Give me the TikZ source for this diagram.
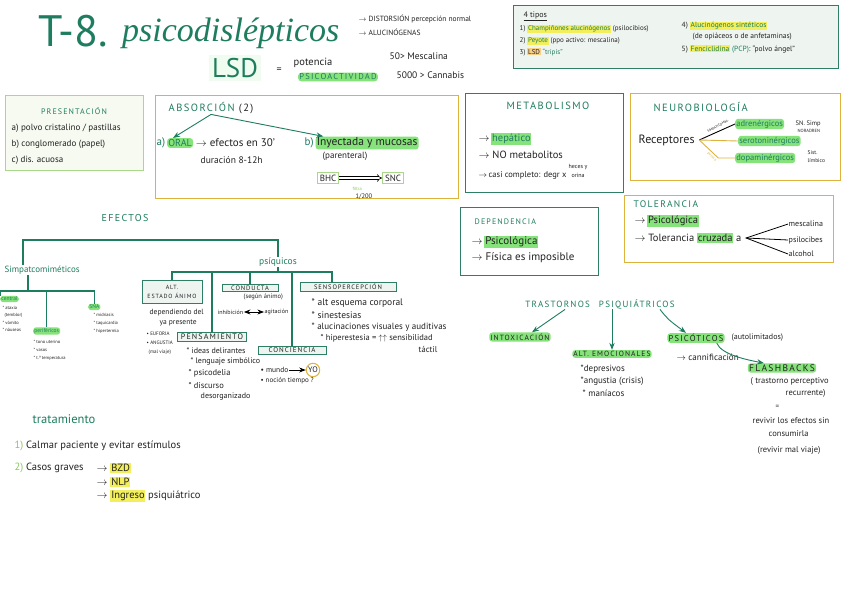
\documentclass[tikz,border=0pt]{standalone}
\usepackage{fontspec}
\setmainfont{PT Sans}
\newfontfamily\titlefont{Liberation Serif}
\newfontfamily\capsfont[LetterSpace=14]{PT Sans}
\usetikzlibrary{arrows.meta, positioning}

\definecolor{ink}{HTML}{1E7D5F}
\definecolor{boxgreen}{HTML}{2F7F66}
\definecolor{gold}{HTML}{DDB33C}
\definecolor{hlg}{HTML}{86E27A}
\definecolor{hly}{HTML}{F3EF5C}
\definecolor{hlo}{HTML}{F7CF86}
\definecolor{lime}{HTML}{86C95A}
\definecolor{pale}{HTML}{EEF4F0}
\definecolor{presfill}{HTML}{F6FAF1}
\definecolor{presline}{HTML}{A8D98A}
\definecolor{pen}{HTML}{222222}

\newcommand\hlY[1]{{\setlength\fboxsep{0.8pt}\colorbox{hly}{#1}}}
\newcommand\hlG[1]{{\setlength\fboxsep{0.8pt}\colorbox{hlg}{#1}}}
\newcommand\ar{\ensuremath{\rightarrow}}

\begin{document}
\begin{tikzpicture}[x=1pt, y=-1pt, >=Stealth, text=pen,
    lbl/.style={anchor=west, inner sep=0.5pt, font=\fontsize{#1}{#1}\selectfont},
    lbl/.default=8,
    head/.style={inner sep=0.5pt, text=ink, font=\capsfont\fontsize{#1}{#1}\selectfont},
    head/.default=9,
    markg/.style={fill=hlg, rounded corners=3pt, inner sep=1.2pt},
    bigbox/.style={draw, anchor=north west, inner sep=0pt},
    gbox/.style={bigbox, draw=boxgreen, line width=1.4pt},
    ybox/.style={bigbox, draw=gold, line width=1.3pt},
    sbox/.style={draw=boxgreen, fill=pale, line width=0.9pt, inner sep=1.5pt, align=center, font=\capsfont\fontsize{#1}{9}\selectfont},
    sbox/.default=6.5,
    tree/.style={draw=ink, line width=1.1pt},
    garrow/.style={->, draw=ink, line width=0.9pt}
  ]
  \useasboundingbox[fill=white] (0,0) rectangle (848,599);

  % Title
  \node[anchor=base west, inner sep=0pt, text=ink, font=\fontsize{44}{44}\selectfont] (tnum) at (38,47) {T-8.};
  \node[anchor=base west, inner sep=0pt, text=ink, font=\titlefont\itshape\fontsize{34}{34}\selectfont] (tname) at (122,42) {psicodislépticos};
  \node[lbl=7.5] (dist) at (358,19) {\ar\ DISTORSIÓN percepción normal};
  \node[lbl=7.5] (aluc) at (358,32) {\ar\ ALUCINÓGENAS};

  \node[fill=hlg!12, text=ink, inner sep=3pt, font=\fontsize{27}{27}\selectfont] (lsd) at (235,68) {LSD};
  \node[lbl=10] (eq) at (276,70) {=};
  \node[lbl=10.5] (pot) at (293,63) {potencia};
  \node[markg, anchor=west, text=ink, font=\capsfont\fontsize{8.5}{8.5}\selectfont] (psicoact) at (298,77) {PSICOACTIVIDAD};
  \node[lbl=9.5] (mesc) at (389,56) {50> Mescalina};
  \node[lbl=9.5] (cann) at (396,75) {5000 > Cannabis};

  % 4 tipos
  \node[bigbox, draw=boxgreen, fill=pale, line width=1.2pt, minimum width=325pt, minimum height=63pt] (tipos) at (513,5) {};
  \node[lbl=8] (tiposh) at (523,16) {\underline{4 tipos}};
  \node[lbl=7] (t1) at (519,29) {1) \hlY{\color{ink}Champiñones alucinógenos} (psilocibios)};
  \node[lbl=7] (t2) at (519,41) {2) \hlY{\color{ink}Peyote} (ppo activo: mescalina)};
  \node[lbl=7] (t3) at (519,52) {3) {\setlength\fboxsep{0.8pt}\colorbox{hlo}{LSD}} {\color{ink}``tripis''}};
  \node[lbl=7.5] (t4) at (681,26) {4) \hlY{\color{ink}Alucinógenos sintéticos}};
  \node[lbl=7.5] (t4b) at (692,37) {(de opiáceos o de anfetaminas)};
  \node[lbl=7.5] (t5) at (681,49) {5) \hlY{\color{ink}Fenciclidina} {\color{ink}(PCP)}: ``polvo ángel''};

  % Presentacion
  \node[bigbox, draw=presline, fill=presfill, line width=1.2pt, minimum width=138pt, minimum height=75pt] (pres) at (5,95) {};
  \node[head=8] (presh) at (74,111) {PRESENTACIÓN};
  \node[lbl=9] (p1) at (11,128) {a) polvo cristalino / pastillas};
  \node[lbl=9] (p2) at (11,144) {b) conglomerado (papel)};
  \node[lbl=9] (p3) at (11,160) {c) dis. acuosa};

  % Absorcion
  \node[ybox, minimum width=303pt, minimum height=103pt] (absbox) at (155,95) {};
  \node[head=10.5, anchor=west] (absh) at (168,108) {ABSORCIÓN {\color{pen}(2)}};
  \node[lbl=11, text=ink] (oa) at (156,143) {a)};
  \node[markg, right=1pt of oa, text=ink, font=\fontsize{10}{10}\selectfont] (oral) {ORAL};
  \node[lbl=11, right=2pt of oral] (efec) {\ar\ efectos en 30'};
  \node[lbl=9.5] (durac) at (200,160) {duración 8-12h};
  \node[lbl=11, text=ink] (ob) at (304,143) {b)};
  \node[markg, right=1pt of ob, font=\fontsize{11.5}{11.5}\selectfont] (inyec) {Inyectada y mucosas};
  \node[lbl=9] (paren) at (322,156) {(parenteral)};
  \draw[garrow] (absh.south) -- ([xshift=6pt]oral.north west);
  \draw[garrow] (absh.south) -- ([xshift=8pt]inyec.north west);
  \node[draw=presline, line width=1pt, inner sep=2.5pt, font=\fontsize{9}{9}\selectfont] (bhc) at (328,178) {BHC};
  \node[draw=presline, line width=1pt, inner sep=2.5pt, font=\fontsize{9}{9}\selectfont] (snc) at (393,178) {SNC};
  \draw[double, double distance=2pt, -{Implies}, line width=0.6pt] (bhc) -- (snc);
  \node[lbl=4.5, text=lime] (filtra) at (352,189) {filtra};
  \node[lbl=6.5] (ratio) at (355,197) {1/200};

  % Metabolismo
  \node[gbox, minimum width=158pt, minimum height=99pt] (metbox) at (465,93) {};
  \node[head=10.5] (meth) at (548,106) {METABOLISMO};
  \node[lbl=10.5] (m1) at (478,139) {\ar\,\hlG{\color{ink}hepático}};
  \node[lbl=10.5] (m2) at (478,155) {\ar\ NO metabolitos};
  \node[lbl=8.5] (m3) at (478,172) {\ar\,casi completo: degr x {\fontsize{6}{6}\selectfont\shortstack{heces y\\orina}}};

  % Neurobiologia
  \node[ybox, minimum width=210pt, minimum height=87pt] (neubox) at (630,93) {};
  \node[head=10.5, anchor=west] (neuh) at (653,107) {NEUROBIOLOGÍA};
  \node[lbl=12] (recep) at (638,140) {Receptores};
  \node[markg, anchor=west, text=ink, font=\fontsize{8.5}{8.5}\selectfont] (adren) at (735,124) {adrenérgicos};
  \node[markg, anchor=west, text=ink, font=\fontsize{8.5}{8.5}\selectfont] (sero) at (738,141) {serotoninérgicos};
  \node[markg, anchor=west, text=ink, font=\fontsize{8.5}{8.5}\selectfont] (dopa) at (735,158) {dopaminérgicos};
  \coordinate (rfork) at ([xshift=4pt]recep.east);
  \draw[line width=0.9pt] (rfork) -- (adren.west);
  \draw[gold, line width=0.9pt] (rfork) -- (sero.west);
  \draw[gold, line width=0.9pt] (rfork) -- ++(19,18) -- (dopa.west);
  \node[font=\fontsize{3.5}{3.5}\selectfont, rotate=29, inner sep=0pt] (simlbl) at (718,126) {SIMPATICOMIM.};
  \node[font=\fontsize{3.5}{3.5}\selectfont, text=gold, rotate=-45, inner sep=0pt] (psilbl) at (712,157) {psicosis};
  \node[lbl=6.5] (snsimp) at (795,124) {SN. Simp};
  \node[lbl=4.5] (noradr) at (797,131) {NORADREN};
  \node[lbl=5.5] (sist) at (807,153) {Sist.};
  \node[lbl=5.5] (limb) at (807,161) {límbico};

  % Tolerancia
  \node[ybox, minimum width=209pt, minimum height=67pt] (tolbox) at (624,195) {};
  \node[head=9.5, anchor=west] (tolh) at (633,204) {TOLERANCIA};
  \node[lbl=10.5] (tol1) at (634,221) {\ar\,\hlG{Psicológica}};
  \node[lbl=10.5] (tol2) at (634,238) {\ar\ Tolerancia \hlG{cruzada} a};
  \coordinate (tfork) at ([xshift=4pt]tol2.east);
  \node[lbl=8] (mesca) at (788,224) {mescalina};
  \node[lbl=8] (psilo) at (788,240) {psilocibes};
  \node[lbl=8] (alco) at (788,254) {alcohol};
  \draw[line width=0.8pt] (mesca.west) -- (tfork) -- (alco.west);
  \draw[line width=0.8pt] (tfork) -- (psilo.west);

  % Dependencia
  \node[gbox, minimum width=138pt, minimum height=68pt] (depbox) at (460,207) {};
  \node[head=8, anchor=west] (deph) at (474,222) {DEPENDENCIA};
  \node[lbl=11] (dep1) at (471,242) {\ar\,\hlG{Psicológica}};
  \node[lbl=11] (dep2) at (471,258) {\ar\ Física es imposible};

  % Efectos
  \node[head=10] (efh) at (125,218) {EFECTOS};
  \node[lbl=9, text=ink] (simpa) at (4,270) {Simpatcomiméticos};
  \node[text=ink, font=\fontsize{9.5}{9.5}\selectfont, inner sep=0.5pt] (psiq) at (278,262) {psíquicos};
  \coordinate (efbar) at (150,240);
  \draw[tree] ([xshift=19pt]simpa.north west) |- (efbar) -| (psiq.north);

  % simpaticomimeticos
  \coordinate (sbar) at (28,291);
  \draw[tree] ([xshift=24pt]simpa.south west) -- (sbar);
  \node[markg, anchor=west, text=ink, font=\fontsize{5.5}{5.5}\selectfont] (central) at (0,299) {central};
  \node[markg, anchor=west, text=ink, font=\fontsize{5.5}{5.5}\selectfont] (perif) at (33,331) {periféricos};
  \node[markg, anchor=west, text=ink, font=\fontsize{5.5}{5.5}\selectfont] (sna) at (88,307) {SNA};
  \draw[tree] (sbar) -| ([xshift=-9pt]central.north);
  \draw[tree] (sbar) -| (perif.north);
  \draw[tree] (sbar) -| (sna.north);
  \node[lbl=4.5] (c1) at (2,308) {* ataxia};
  \node[lbl=4.5] (c2) at (4,315) {(temblor)};
  \node[lbl=4.5] (c3) at (2,323) {* vómito};
  \node[lbl=4.5] (c4) at (2,330) {* náuseas};
  \node[lbl=4.5] (pf1) at (33,342) {* tono uterino};
  \node[lbl=4.5] (pf2) at (33,350) {* vasos};
  \node[lbl=4.5] (pf3) at (33,358) {* t.ª temperatura};
  \node[lbl=4.5] (s1) at (93,315) {* midriasis};
  \node[lbl=4.5] (s2) at (93,323) {* taquicardia};
  \node[lbl=4.5] (s3) at (93,331) {* hipertermia};

  % psiquicos
  \coordinate (pbar) at (278,272);
  \draw[tree] (psiq.south) -- (pbar);
  \node[sbox=6, minimum width=60pt, minimum height=23pt] (alt) at (172,292) {ALT.\\ESTADO ÁNIMO};
  \node[sbox=6.5, minimum width=56pt] (cond) at (250,288) {CONDUCTA};
  \node[sbox=6.5, minimum width=96pt] (senso) at (348,287) {SENSOPERCEPCIÓN};
  \node[sbox=8, minimum width=69pt] (pens) at (212,337) {PENSAMIENTO};
  \node[sbox=7, minimum width=68pt] (conc) at (292,350) {CONCIENCIA};
  \foreach \n in {alt,pens,cond,conc}
    \draw[tree] (pbar) -| (\n.north);
  \draw[tree] (pbar) -| ([xshift=-16pt]senso.north);

  \node[lbl=7.5] (dep) at (149,313) {dependiendo del};
  \node[lbl=7.5] (yapres) at (159,323) {ya presente};
  \node[lbl=5] (euf) at (146,334) {• EUFORIA};
  \node[lbl=5] (ang) at (146,343) {• ANGUSTIA};
  \node[lbl=5] (malv) at (148,352) {(mal viaje)};
  \node[lbl=6.5] (segun) at (243,297) {(según ánimo)};
  \node[lbl=6] (inhib) at (217,312) {inhibición};
  \node[lbl=6] (agit) at (264,312) {agitación};
  \draw[<->, line width=0.8pt] (inhib) -- (agit);
  \node[lbl=9.5] (se1) at (311,303) {* alt esquema corporal};
  \node[lbl=9.5] (se2) at (311,315) {* sinestesias};
  \node[lbl=9] (se3) at (311,327) {* alucinaciones visuales y auditivas};
  \node[lbl=8.5] (se4) at (320,338) {* hiperestesia = $\uparrow\uparrow$ sensibilidad};
  \node[lbl=8.5] (se5) at (418,349) {táctil};
  \node[lbl=8] (pe1) at (186,351) {* ideas delirantes};
  \node[lbl=8] (pe2) at (190,361) {* lenguaje simbólico};
  \node[lbl=8.5] (pe3) at (188,373) {* psicodelia};
  \node[lbl=8.5] (pe4) at (188,386) {* discurso};
  \node[lbl=8] (pe5) at (200,397) {desorganizado};
  \node[lbl=7.5] (mundo) at (260,370) {• mundo};
  \node[draw=gold, circle, line width=1pt, inner sep=0.8pt, font=\fontsize{8}{8}\selectfont] (yo) at (313,370) {YO};
  \draw[->, line width=0.8pt] (mundo) -- (yo);
  \node[lbl=7] (nocion) at (260,381) {• noción tiempo ?};

  % Trastornos
  \node[head=9] (trast) at (600,304) {TRASTORNOS\quad PSIQUIÁTRICOS};
  \node[markg, font=\capsfont\fontsize{7.5}{7.5}\selectfont] (intox) at (520,337) {INTOXICACIÓN};
  \node[markg, font=\capsfont\fontsize{7.5}{7.5}\selectfont] (altem) at (612,354) {ALT. EMOCIONALES};
  \node[markg, font=\capsfont\fontsize{8.5}{8.5}\selectfont] (psico) at (696,338) {PSICÓTICOS};
  \draw[garrow] ([xshift=-35pt]trast.south) -- ([xshift=12pt]intox.north);
  \draw[garrow] ([xshift=12pt]trast.south) -- (altem.north);
  \draw[garrow] ([xshift=60pt]trast.south) .. controls +(8,10) .. ([xshift=-10pt]psico.north);
  \node[lbl=8] (autol) at (731,338) {(autolimitados)};
  \node[lbl=9] (canni) at (676,357) {\ar\ cannificación};
  \node[markg, font=\capsfont\fontsize{9.5}{9.5}\selectfont] (flash) at (782,368) {FLASHBACKS};
  \draw[garrow] ([xshift=-8pt]psico.south east) .. controls +(5,12) and +(-15,-3) .. ([xshift=-18pt]flash.north);
  \node[lbl=8.5] (fl1) at (750,381) {( trastorno perceptivo};
  \node[lbl=8.5] (fl2) at (785,393) {recurrente)};
  \node[lbl=7] (fl3) at (775,407) {=};
  \node[lbl=8.5] (fl4) at (752,421) {revivir los efectos sin};
  \node[lbl=8.5] (fl5) at (768,434) {consumirla};
  \node[lbl=8.5] (fl6) at (757,450) {(revivir mal viaje)};
  \node[lbl=9] (ae1) at (580,369) {*depresivos};
  \node[lbl=9] (ae2) at (580,381) {*angustia (crisis)};
  \node[lbl=9] (ae3) at (582,393) {* maníacos};

  % Tratamiento
  \node[lbl=12.5, text=ink] (trath) at (32,419) {tratamiento};
  \node[lbl=10.5] (tr1) at (14,446) {{\color{lime}1)} Calmar paciente y evitar estímulos};
  \node[lbl=10.5] (tr2) at (14,468) {{\color{lime}2)} Casos graves};
  \node[lbl=10.5] (bzd) at (96,468) {\ar\ \hlY{BZD}};
  \node[lbl=10.5] (nlp) at (96,482) {\ar\ \hlY{NLP}};
  \node[lbl=10.5] (ingr) at (96,496) {\ar\ \hlY{Ingreso} psiquiátrico};
\end{tikzpicture}
\end{document}
